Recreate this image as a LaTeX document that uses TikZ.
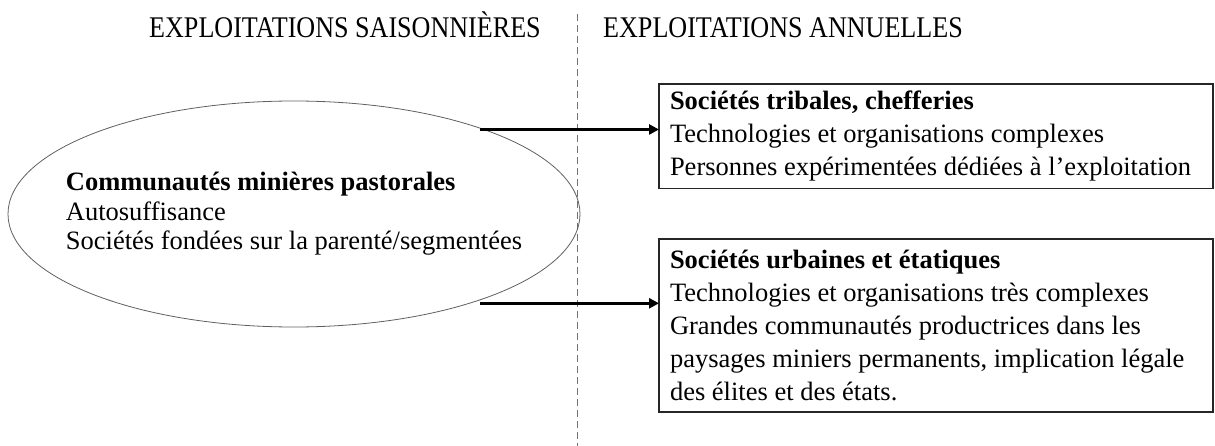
\documentclass[tikz,border=0pt]{standalone}
\usepackage{fontspec}
\setmainfont{Liberation Serif}
\newfontfamily\capsfont[FakeStretch=0.87]{Liberation Serif}
\usetikzlibrary{arrows.meta,shapes.geometric}
\definecolor{edgegrey}{RGB}{95,95,95}
\tikzset{
  colhead/.style={anchor=base west, inner sep=0pt,
                  font=\capsfont\fontsize{30}{32}\selectfont},
  divider/.style={black!55, line width=0.8pt, dash pattern=on 7pt off 4pt},
  socell/.style ={ellipse, draw=edgegrey, line width=0.8pt,
                  minimum width=572pt, minimum height=226pt,
                  inner sep=0pt, outer sep=0pt},
  soctext/.style={align=left, inner sep=0pt,
                  font=\fontsize{26.5}{29.5}\selectfont},
  socbox/.style ={rectangle, draw=black!85, line width=1.4pt,
                  anchor=north west, align=flush left, text width=532pt,
                  inner xsep=11pt, inner ysep=7pt, outer sep=0pt,
                  font=\fontsize{26.5}{33}\selectfont},
  evol/.style   ={-{Triangle[length=10pt,width=10pt]}, line width=3pt, black},
}

\begin{document}
\begin{tikzpicture}[x=1pt,y=-1pt]
  \useasboundingbox (0,0) rectangle (1215,446);

  % ---- the two columns -----------------------------------------------------
  \node[colhead] (hsais) at (149,38) {EXPLOITATIONS SAISONNIÈRES};
  \node[colhead] (hann)  at (603,38) {EXPLOITATIONS ANNUELLES};
  \coordinate (dtop) at (577,14);
  \coordinate (dbot) at (577,446);
  \draw[divider] (dtop) -- (dbot);

  % ---- seasonal side ---------------------------------------------------------
  \node[socell] (past) at (294,214) {};
  \node[soctext] (pasttxt) at (past.center)
    {\textbf{Communautés minières pastorales}\\
     Autosuffisance\\
     Sociétés fondées sur la parenté/segmentées};

  % ---- annual side -----------------------------------------------------------
  \node[socbox] (trib) at (659,84)
    {\textbf{Sociétés tribales, chefferies}\\
     Technologies et organisations complexes\\
     Personnes expérimentées dédiées à l’exploitation};
  \node[socbox, minimum height=173pt] (urb) at (659,239)
    {\textbf{Sociétés urbaines et étatiques}\\
     Technologies et organisations très complexes\\
     Grandes communautés productrices dans les\\
     paysages miniers permanents, implication légale\\
     des élites et des états.};

  \draw[evol] ([xshift=-4pt]past.24.8) -- (past.24.8 -| trib.west);
  \draw[evol] ([xshift=11pt]past.-27.5) -- (past.-27.5 -| urb.west);
\end{tikzpicture}
\end{document}
